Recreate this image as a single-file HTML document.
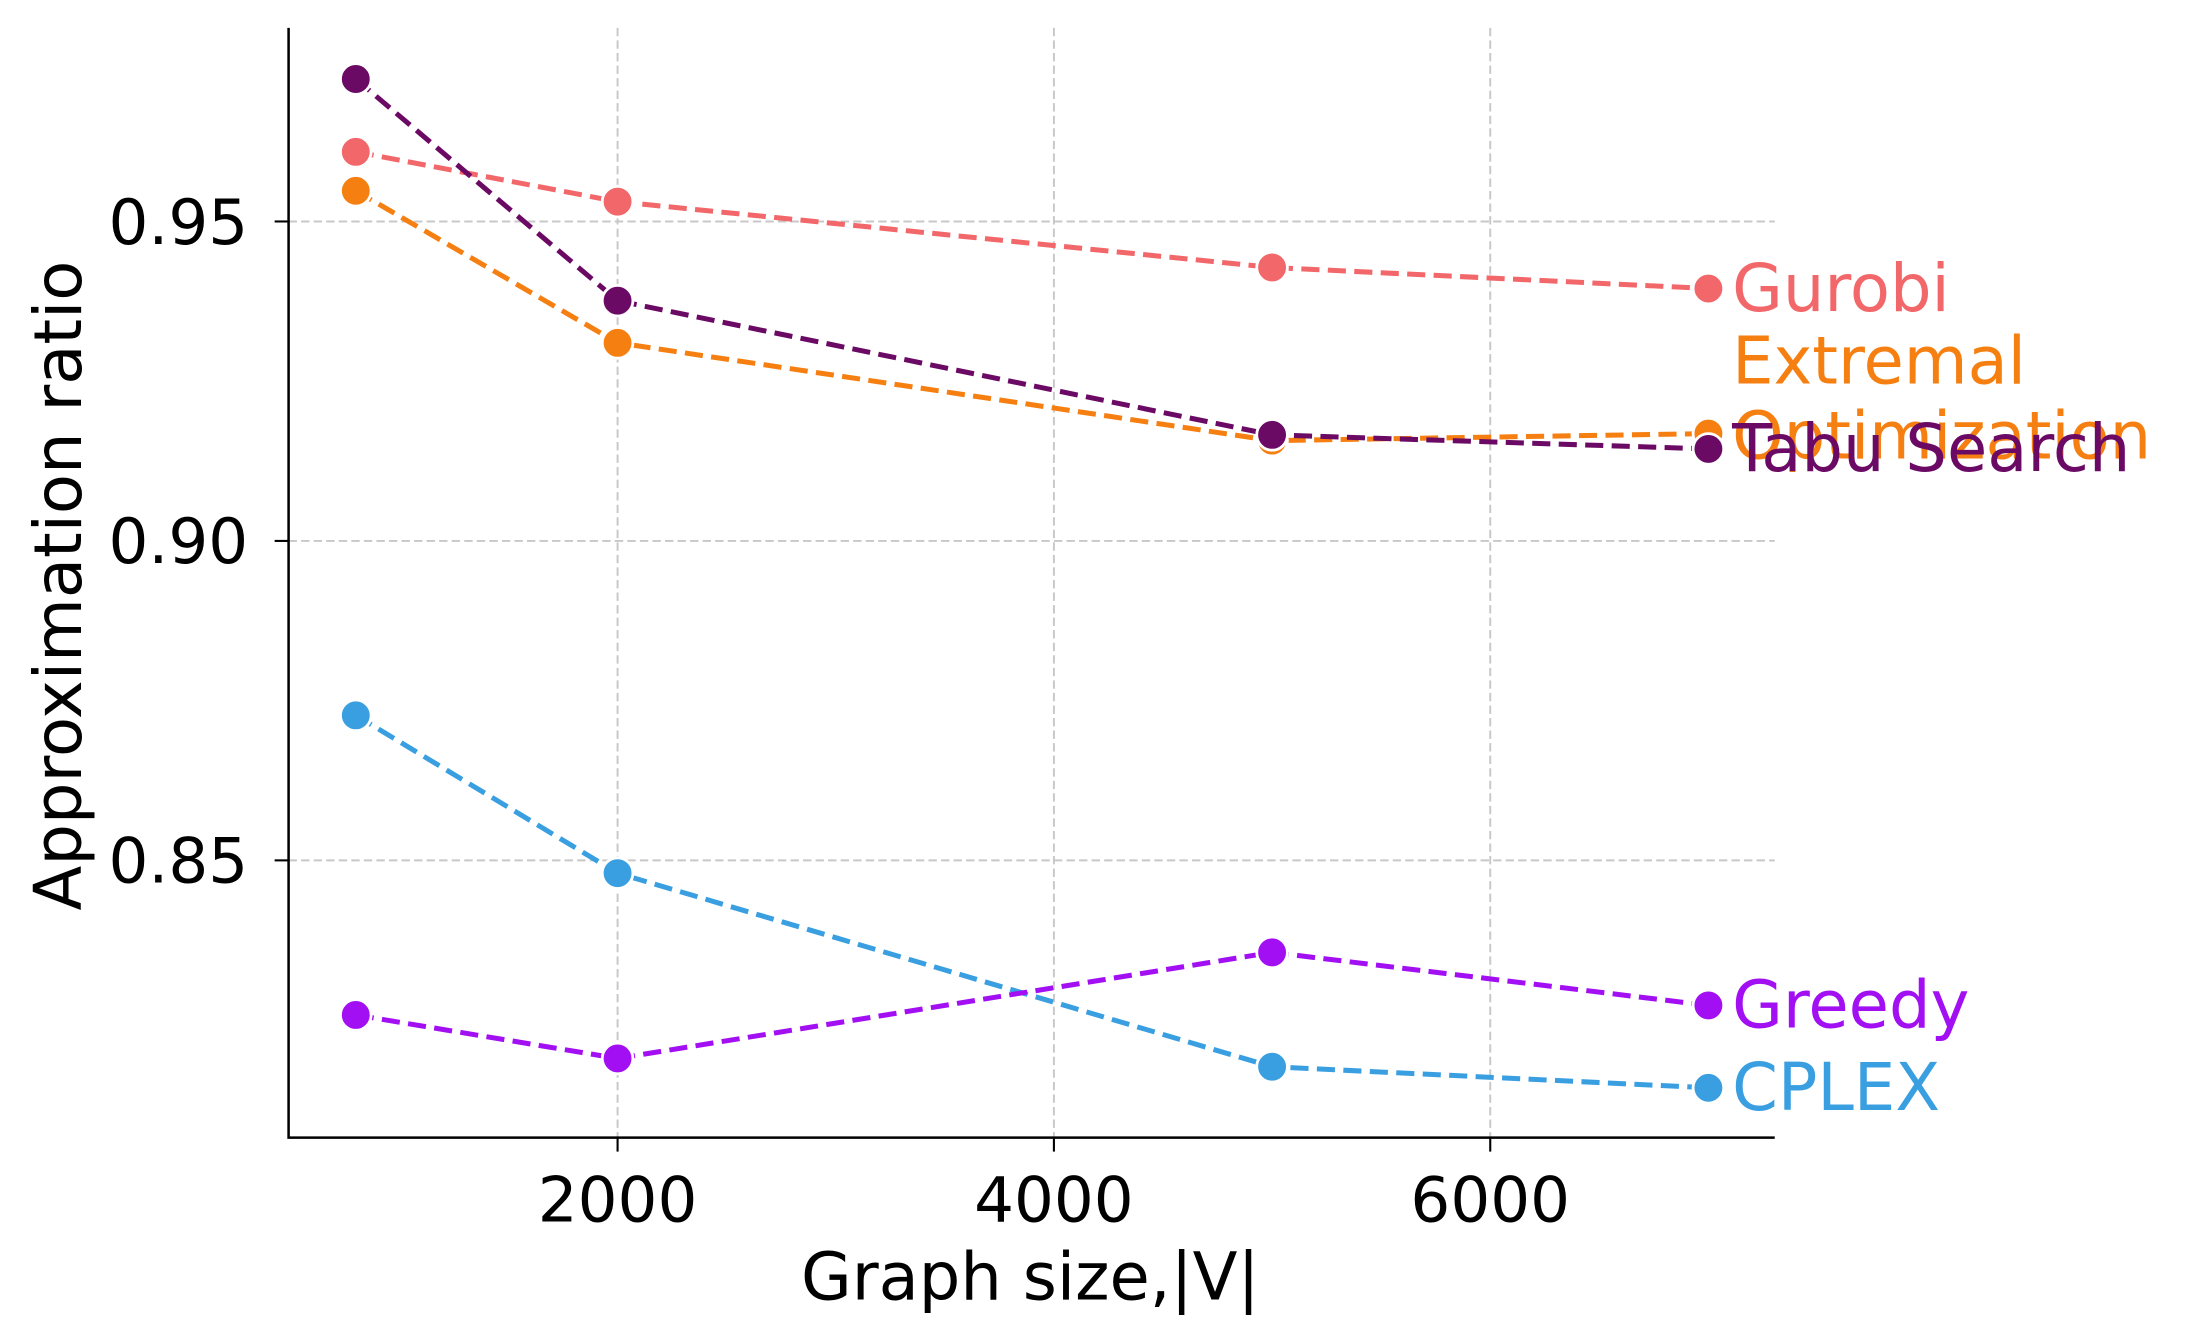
<!DOCTYPE html>
<html><head><meta charset="utf-8"><style>
html,body{margin:0;padding:0;background:#fff}
svg{display:block;font-family:"DejaVu Sans","Liberation Sans",sans-serif}
</style></head><body>
<svg id="chart" width="2186" height="1344" viewBox="0 0 1568 964" preserveAspectRatio="none" xmlns="http://www.w3.org/2000/svg">
<g id="grid"></g>
<g id="series"></g>
<g id="axes"></g>
</svg>
<script>
const xValues = [800, 2000, 5000, 7000];
const seriesNames = ["Gurobi", "Extremal\nOptimization", "Tabu Search", "CPLEX", "Greedy"];
const gurobiValues = [0.9609, 0.9531, 0.9428, 0.9395];
const extremalValues = [0.9548, 0.9310, 0.9157, 0.9168];
const tabuValues = [0.9723, 0.9376, 0.9166, 0.9144];
const cplexValues = [0.8727, 0.8480, 0.8177, 0.8144];
const greedyValues = [0.8258, 0.8190, 0.8356, 0.8273];
const xTicks = [2000, 4000, 6000];
const yTicks = [0.85, 0.90, 0.95];

const L=207,R=1273,T=20,B=816;
const xMin=492,xMax=7304,yMin=0.8066,yMax=0.9803;
const sx=v=>L+(v-xMin)/(xMax-xMin)*(R-L);
const sy=v=>B-(v-yMin)/(yMax-yMin)*(B-T);
const NS="http://www.w3.org/2000/svg";
function mk(tag,attrs,parent){const e=document.createElementNS(NS,tag);for(const k in attrs)e.setAttribute(k,attrs[k]);parent.appendChild(e);return e;}
const grid=document.getElementById('grid'),series=document.getElementById('series'),axes=document.getElementById('axes');

xTicks.forEach(t=>{
  const g=mk('line',{x1:sx(t),x2:sx(t),y1:T,y2:B,stroke:'#c8c8c8','stroke-width':1.4,'stroke-dasharray':'6,3'},grid);
  
  
  const tk=mk('line',{x1:sx(t),x2:sx(t),y1:B,y2:B+10,stroke:'#000','stroke-width':1.5},axes);
  
  
  const tx=mk('text',{x:sx(t),y:B+60,'font-size':45,'text-anchor':'middle',fill:'#000'},axes);
  tx.textContent=t;
  
  
});
yTicks.forEach(t=>{
  const g=mk('line',{x1:L,x2:R,y1:sy(t),y2:sy(t),stroke:'#c8c8c8','stroke-width':1.4,'stroke-dasharray':'6,3'},grid);
  
  
  const tk=mk('line',{x1:L-10,x2:L,y1:sy(t),y2:sy(t),stroke:'#000','stroke-width':1.5},axes);
  
  
  const tx=mk('text',{x:L-29,y:sy(t)+16,'font-size':45,'text-anchor':'end',fill:'#000'},axes);
  tx.textContent=t.toFixed(2);
  
  
});
const sp=mk('path',{d:`M${L},${T}V${B}H${R}`,fill:'none',stroke:'#000','stroke-width':1.8},axes);


const xl=mk('text',{x:739,y:932,'font-size':47,'text-anchor':'middle'},axes);
xl.textContent='Graph size,|V|';


const yl=mk('text',{x:0,y:0,'font-size':47,'text-anchor':'middle',transform:`translate(58,420) rotate(-90)`},axes);
yl.textContent='Approximation ratio';



const all=[gurobiValues,extremalValues,tabuValues,cplexValues,greedyValues];
const colors=['#f2676a','#f67f12','#6b0a64','#3a9fe0','#a20ff2'];
const keys=['gurobi','extremal-optimization','tabu-search','cplex','greedy'];
all.forEach((vals,i)=>{
  const g=mk('g',{},series);
  
  
  const p=mk('polyline',{points:vals.map((v,j)=>sx(xValues[j])+','+sy(v)).join(' '),fill:'none',stroke:colors[i],'stroke-width':3.6,'stroke-dasharray':'13,6'},g);
  
  
  vals.forEach((v,j)=>{
    const c=mk('circle',{cx:sx(xValues[j]),cy:sy(v),r:11,fill:colors[i],stroke:'#fff','stroke-width':2},g);
    
    
  });
  const lines=seriesNames[i].split('\n');
  const last=vals[vals.length-1];
  const t=mk('text',{x:sx(xValues[xValues.length-1])+17,y:sy(last)+16-(lines.length>1?52:0),'font-size':47,fill:colors[i]},g);
  lines.forEach((ln,k)=>{const ts=mk('tspan',{x:sx(xValues[xValues.length-1])+17,dy:k?54:0},t);ts.textContent=ln;});
  
  
});
</script>
</body></html>
